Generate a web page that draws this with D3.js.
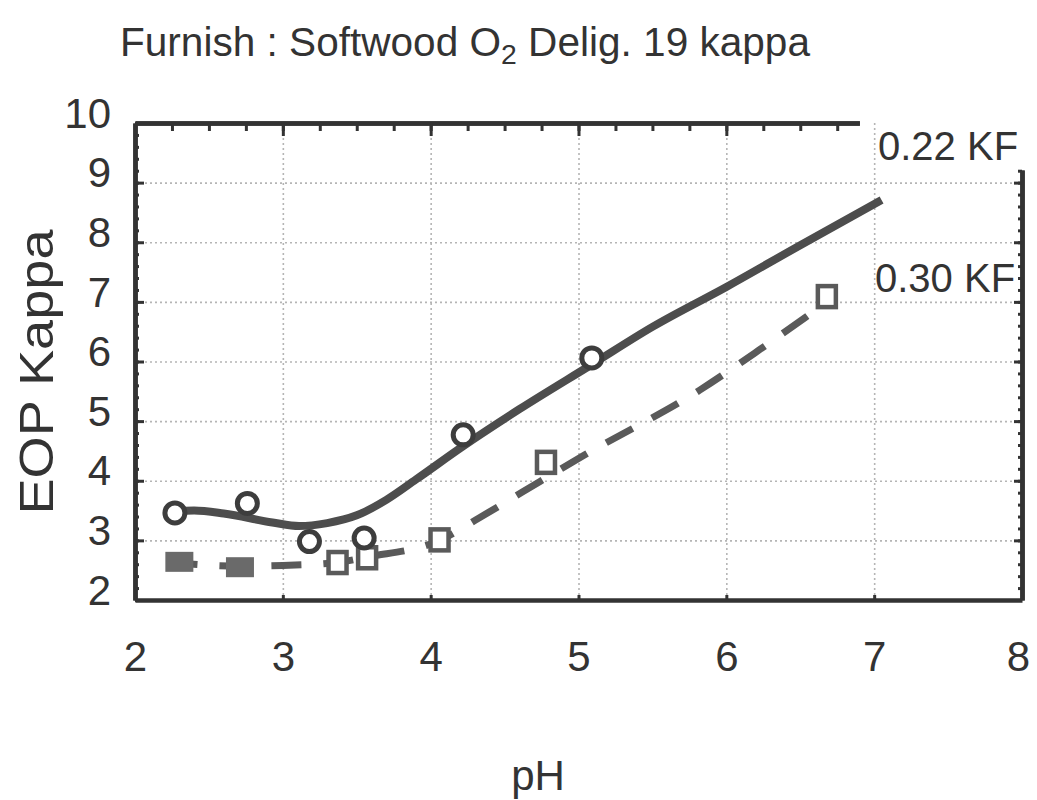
<!DOCTYPE html>
<meta charset="utf-8">
<style>
body { margin: 0; background: #fff; }
text { font-family: "Liberation Sans", Arial, sans-serif; fill: #333; }
.grid line { stroke: #b5b5b5; stroke-width: 1.6; stroke-dasharray: 2,3; }
.grid path { display: none; }
.frame path, .frame line { stroke: #333; }
.frame path { stroke-width: 4.5; fill: none; }
.frame line { stroke-width: 3; }
.label { font-size: 42px; }
</style>
<body>
<script src="https://d3js.org/d3.v7.min.js"></script>
<script>

// data
var xTicks = [2, 3, 4, 5, 6, 7, 8];
var yTicks = [2, 3, 4, 5, 6, 7, 8, 9, 10];

// 0.22 KF : fitted curve and open circles
var fit22 = [[2.26,3.48],[2.4,3.5],[2.6,3.45],[2.93,3.3],[3.11,3.24],[3.3,3.29],
             [3.5,3.42],[3.7,3.68],[3.9,4.02],[4.22,4.58],[4.6,5.2],[5.09,5.95],
             [5.5,6.58],[6.0,7.25],[6.5,7.95],[7.05,8.71]];
var pts22 = [[2.27,3.46],[2.76,3.62],[3.18,2.98],[3.55,3.04],[4.22,4.77],[5.09,6.06]];

// 0.30 KF : dashed curve and squares
var fit30 = [[2.22,2.63],[2.7,2.57],[3.0,2.58],[3.37,2.63],[3.57,2.72],[4.06,3.0],
             [4.33,3.38],[4.62,3.81],[5.04,4.43],[5.82,5.52],[6.22,6.19],[6.54,6.75],[6.68,7.0]];
var pts30 = [[3.37,2.62],[3.57,2.70],[4.06,3.0],[4.78,4.30],[6.68,7.08]];
var pts30dark = [[2.3,2.64],[2.71,2.55]];

var svg = d3.select("body").append("svg")
    .attr("width", 1037)
    .attr("height", 800);

var x = d3.scaleLinear().domain([2, 8]).range([135, 1022]);
var y = d3.scaleLinear().domain([2, 10]).range([600, 123]);

// gridlines
svg.append("g")
    .attr("class", "grid")
    .attr("transform", "translate(0,600)")
    .call(d3.axisBottom(x).tickValues([3,4,5,6,7]).tickSize(-477).tickFormat(""));
svg.append("g")
    .attr("class", "grid")
    .attr("transform", "translate(135,0)")
    .call(d3.axisLeft(y).tickValues([3,4,5,6,7,8,9]).tickSize(-887).tickFormat(""));

// frame: left, bottom, a shortened top and right
svg.append("g")
    .attr("class", "frame")
    .attr("transform", "translate(135,0)")
    .call(d3.axisLeft(y).ticks(40).tickSize(-4).tickFormat("").tickSizeOuter(0));
svg.append("g")
    .attr("class", "frame")
    .attr("transform", "translate(135,0)")
    .call(d3.axisLeft(y).tickValues(yTicks).tickSize(-9).tickFormat("").tickSizeOuter(0));

svg.append("g")
    .attr("class", "frame")
    .attr("transform", "translate(0,600)")
    .call(d3.axisBottom(x).tickValues(xTicks).tickSize(-5).tickFormat("").tickSizeOuter(0));

var xTop = d3.scaleLinear().domain([2, 6.9]).range([x(2), x(6.9)]);
svg.append("g")
    .attr("class", "frame")
    .attr("transform", "translate(0,123)")
    .call(d3.axisTop(xTop).tickValues(d3.range(2.25, 6.9, 0.25)).tickSize(-8).tickFormat("").tickSizeOuter(0));
svg.append("g")
    .attr("class", "frame")
    .attr("transform", "translate(0,123)")
    .call(d3.axisTop(xTop).tickValues([3,4,5,6]).tickSize(-13).tickFormat("").tickSizeOuter(0));

var yRight = d3.scaleLinear().domain([2, y.invert(170)]).range([600, 170]);
svg.append("g")
    .attr("class", "frame")
    .attr("transform", "translate(1022,0)")
    .call(d3.axisRight(yRight).ticks(36).tickSize(-4).tickFormat("").tickSizeOuter(0));
svg.append("g")
    .attr("class", "frame")
    .attr("transform", "translate(1022,0)")
    .call(d3.axisRight(yRight).tickValues([3,4,5,6,7,8,9]).tickSize(-8).tickFormat("").tickSizeOuter(0));

// tick labels
var xAxis = svg.append("g")
    .attr("transform", "translate(0,600)")
    .call(d3.axisBottom(x).tickValues(xTicks).tickSize(0).tickPadding(41).tickFormat(d3.format("d")));
xAxis.select(".domain").remove();
xAxis.selectAll("text").attr("class", "label").style("fill", "#333");
xAxis.selectAll(".tick").filter(function(d) { return d === 8; })
    .select("text").attr("dx", "-0.1em");

var yAxis = svg.append("g")
    .attr("transform", "translate(135,0)")
    .call(d3.axisLeft(y).tickValues(yTicks).tickSize(0).tickPadding(24));
yAxis.select(".domain").remove();
yAxis.selectAll("text").attr("class", "label").attr("dy", "0.1em").style("fill", "#333");

// curves
var line = d3.line()
    .x(function(d) { return x(d[0]); })
    .y(function(d) { return y(d[1]); })
    .curve(d3.curveMonotoneX);

svg.append("path")
    .datum(fit30)
    .attr("d", line)
    .attr("fill", "none")
    .attr("stroke", "#5a5a5a")
    .attr("stroke-width", 7)
    .attr("stroke-dasharray", "30,22");

svg.append("path")
    .datum(fit22)
    .attr("d", line)
    .attr("fill", "none")
    .attr("stroke", "#4d4d4d")
    .attr("stroke-width", 8);

// markers
svg.selectAll(".sq")
    .data(pts30)
    .enter().append("rect")
      .attr("x", function(d) { return x(d[0]) - 9; })
      .attr("y", function(d) { return y(d[1]) - 11; })
      .attr("width", 18)
      .attr("height", 21)
      .attr("fill", "#fff")
      .attr("stroke", "#5a5a5a")
      .attr("stroke-width", 4.5);

svg.selectAll(".sqd")
    .data(pts30dark)
    .enter().append("rect")
      .attr("x", function(d) { return x(d[0]) - 14; })
      .attr("y", function(d) { return y(d[1]) - 10; })
      .attr("width", 28)
      .attr("height", 20)
      .attr("fill", "#6a6a6a");

svg.selectAll(".dot")
    .data(pts22)
    .enter().append("circle")
      .attr("cx", function(d) { return x(d[0]); })
      .attr("cy", function(d) { return y(d[1]); })
      .attr("r", 10)
      .attr("fill", "#fff")
      .attr("stroke", "#3d3d3d")
      .attr("stroke-width", 5);

// texts
var title = svg.append("text")
    .attr("x", 120)
    .attr("y", 56)
    .style("font-size", "40px")
    .attr("textLength", 690)
    .attr("lengthAdjust", "spacingAndGlyphs");
title.append("tspan").text("Furnish : Softwood O");
title.append("tspan").attr("dy", 8).style("font-size", "28px").text("2");
title.append("tspan").attr("dy", -8).text(" Delig. 19 kappa");

svg.append("text")
    .attr("x", 878)
    .attr("y", 160)
    .style("font-size", "40px")
    .text("0.22 KF");

svg.append("text")
    .attr("x", 875)
    .attr("y", 292)
    .style("font-size", "40px")
    .text("0.30 KF");

svg.append("text")
    .attr("transform", "translate(53,372) rotate(-90)")
    .style("text-anchor", "middle")
    .style("font-size", "48px")
    .attr("textLength", 285)
    .attr("lengthAdjust", "spacingAndGlyphs")
    .text("EOP Kappa");

svg.append("text")
    .attr("x", 538)
    .attr("y", 790)
    .style("text-anchor", "middle")
    .style("font-size", "42px")
    .text("pH");

</script>
</body>
